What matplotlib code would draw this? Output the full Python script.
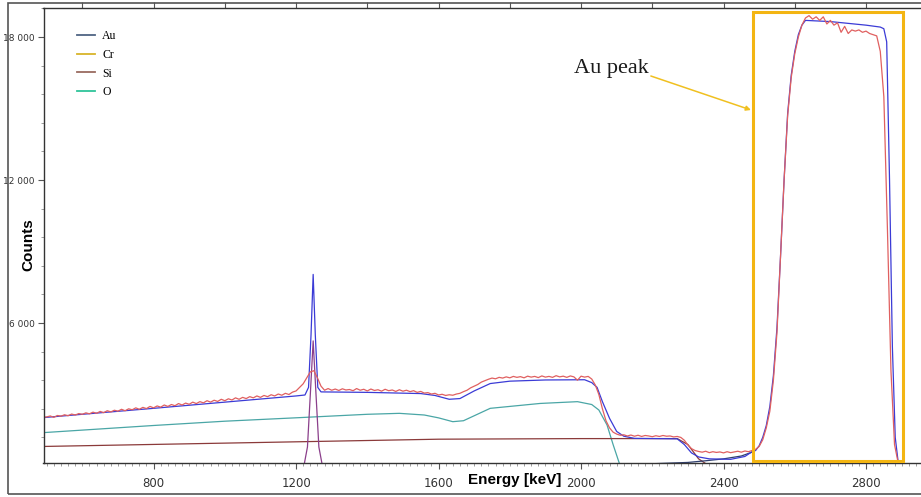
import numpy as np
import matplotlib
matplotlib.use("Agg")
import matplotlib.pyplot as plt
from matplotlib.lines import Line2D
from matplotlib.patches import Rectangle
from matplotlib.ticker import MultipleLocator, FuncFormatter

# measured spectrum (10 keV channels, 490 .. 2900 keV)
exp_energy = np.arange(490, 2901, 10)
exp_counts = [
    2050,
    2060, 2100, 2040, 2120, 2090, 2150, 2110, 2180, 2140, 2200,
    2170, 2230, 2190, 2260, 2210, 2290, 2240, 2320, 2270, 2340,
    2300, 2380, 2320, 2400, 2360, 2440, 2380, 2460, 2410, 2500,
    2440, 2520, 2470, 2560, 2500, 2580, 2530, 2620, 2560, 2640,
    2590, 2680, 2620, 2700, 2650, 2740, 2680, 2760, 2710, 2800,
    2740, 2820, 2770, 2860, 2800, 2880, 2830, 2910, 2860, 2940,
    2880, 2960, 2910, 2990, 2940, 3020, 2970, 3050, 3000, 3100,
    3150, 3300, 3450, 3700, 3950, 4000, 3700, 3350, 3180, 3250,
    3180, 3230, 3170, 3240, 3190, 3210, 3160, 3250, 3180, 3220,
    3150, 3230, 3170, 3200, 3140, 3220, 3160, 3190, 3130, 3200,
    3140, 3180, 3120, 3160, 3090, 3130, 3060, 3080, 3020, 3050,
    2980, 3010, 2960, 2990, 2970, 3020, 3050, 3120, 3180, 3280,
    3350, 3420, 3520, 3580, 3640, 3690, 3660, 3720, 3690, 3740,
    3700, 3760, 3720, 3750, 3700, 3770, 3730, 3760, 3710, 3780,
    3730, 3760, 3720, 3790, 3740, 3770, 3720, 3780, 3740, 3600,
    3770, 3730, 3760, 3650, 3400, 3000, 2400, 1900, 1600, 1420,
    1340, 1290, 1310, 1260, 1300, 1250, 1290, 1240, 1280, 1260,
    1230, 1270, 1240, 1280, 1250, 1260, 1220, 1240, 1200, 1080,
    880, 730, 650, 610, 580, 620, 560, 600, 570, 590,
    550, 600, 560, 590, 620, 580, 630, 600, 650, 700,
    820, 1100, 1600, 2300, 3600, 5600, 8800, 12000, 14700, 16300,
    17300, 18000, 18500, 18800, 18900, 18750, 18850, 18700, 18850, 18550,
    18700, 18500, 18600, 18200, 18450, 18150, 18300, 18250, 18300, 18200,
    18250, 18150, 18100, 18050, 17400, 15500, 10000, 4000, 900, 150,
    50,
]

# simulated total
sim_energy = [490, 600, 800, 1000, 1200, 1225, 1235, 1242, 1248, 1254, 1261,
              1270, 1400, 1550, 1590, 1630, 1660, 1700, 1745, 1800, 1900,
              2010, 2030, 2045, 2060, 2080, 2100, 2120, 2150, 2270, 2290,
              2310, 2330, 2360, 2420, 2460, 2480, 2490, 2500, 2510, 2520,
              2530, 2540, 2550, 2560, 2570, 2580, 2590, 2600, 2610, 2620,
              2630, 2700, 2800, 2840, 2850, 2858, 2866, 2874, 2882, 2890,
              2900]
sim_counts = [2030, 2170, 2420, 2680, 2940, 2980, 3300, 5500, 8040, 5500, 3300,
              3110, 3090, 3040, 2960, 2800, 2830, 3150, 3460, 3560, 3610,
              3620, 3500, 3300, 2700, 2000, 1450, 1250, 1160, 1140, 900,
              550, 380, 300, 280, 400, 600, 650, 850, 1200, 1700,
              2500, 3800, 5800, 8800, 12000, 14800, 16400, 17400, 18100, 18500,
              18700, 18650, 18500, 18420, 18350, 17800, 12000, 5000, 1200, 200,
              0]

# element partials
o_energy = [490, 800, 1000, 1210, 1400, 1490, 1560, 1600, 1640, 1670, 1745,
            1885, 1990, 2030, 2050, 2073, 2090, 2110]
o_counts = [1400, 1700, 1880, 2030, 2170, 2210, 2140, 2020, 1860, 1900, 2420,
            2625, 2700, 2580, 2350, 1720, 900, 0]

si_energy = [490, 1000, 1600, 2000, 2270, 2300, 2330, 2360]
si_counts = [820, 960, 1125, 1150, 1150, 900, 300, 0]

res_energy = [1222, 1232, 1240, 1248, 1256, 1264, 1274]
res_counts = [0, 800, 3000, 5250, 3000, 800, 0]

au_energy = [2210, 2300, 2350, 2400, 2450, 2480]
au_counts = [100, 150, 220, 300, 420, 580]

legend_names = ["Au", "Cr", "Si", "O"]
legend_colors = ["#4f6484", "#d8b42a", "#9a6b60", "#2fc49a"]

fig = plt.figure(figsize=(9.21, 4.97), dpi=100)
ax = fig.add_axes([43.5 / 921, 34 / 497, 941.5 / 921, 455 / 497])

# outer panel frame
fig.patches.append(Rectangle((8 / 921, 3 / 497), 1.0, 491 / 497,
                             transform=fig.transFigure, fill=False,
                             edgecolor="#555555", lw=1.2))

ax.plot(o_energy, o_counts, color="#4aa6a6", lw=0.9)
ax.plot(si_energy, si_counts, color="#8b3a3a", lw=0.9)
ax.plot(res_energy, res_counts, color="#8b3f8b", lw=0.9)
ax.plot(au_energy, au_counts, color="#2f3f6f", lw=0.9)
ax.plot(sim_energy, sim_counts, color="#3b3bd6", lw=0.9)
ax.plot(exp_energy, exp_counts, color="#e06060", lw=0.9)

ax.set_xlim(491, 3134)
ax.set_ylim(126, 19220)

ax.xaxis.set_major_locator(MultipleLocator(400))
ax.xaxis.set_minor_locator(MultipleLocator(20))
ax.yaxis.set_major_locator(MultipleLocator(6000))
ax.yaxis.set_minor_locator(MultipleLocator(1200))
ax.yaxis.set_major_formatter(FuncFormatter(lambda v, p: f"{int(v):,}".replace(",", " ")))

ax.tick_params(axis="x", which="major", length=4, width=0.8, colors="#555555",
               labelsize=8.5, labelcolor="#333333", pad=6)
ax.tick_params(axis="x", which="minor", length=2, width=0.5, colors="#777777")
ax.tick_params(axis="y", which="major", length=4, width=0.8, colors="#555555",
               labelsize=6.5, labelcolor="#333333", pad=2.5)
ax.tick_params(axis="y", which="minor", length=2, width=0.5, colors="#777777")
for s in ax.spines.values():
    s.set_color("#333333")
    s.set_linewidth(1.0)

top = ax.secondary_xaxis("top")
top.xaxis.set_major_locator(MultipleLocator(200))
top.tick_params(length=4, width=0.8, colors="#555555", labeltop=False)
top.spines["top"].set_visible(False)

ax.set_xlabel("Energy [keV]", fontsize=11, fontweight="bold", family="Liberation Sans")
ax.xaxis.set_label_coords(0.5, -0.022)
ax.set_ylabel("Counts", fontsize=11, fontweight="bold", family="Liberation Sans")
ax.yaxis.set_label_coords(-0.009, 0.48)

handles = [Line2D([0], [0], color=c, lw=1.3) for c in legend_colors]
ax.legend(handles, legend_names, loc="upper left", bbox_to_anchor=(0.036, 0.952),
          frameon=False, prop={"family": "Liberation Serif", "size": 8.5},
          handlelength=1.5, handletextpad=0.6, labelspacing=0.58, borderpad=0,
          borderaxespad=0)

# Au peak highlight
ax.add_patch(Rectangle((2483, 210), 421, 18840, fill=False,
                       edgecolor="#f3b512", lw=2.2, zorder=5))
ax.annotate("", xy=(2477, 14940), xytext=(2196, 16366),
            arrowprops=dict(arrowstyle="-|>", color="#f0c020", lw=1.1,
                            mutation_scale=7, shrinkA=0, shrinkB=0))
ax.text(2085, 16700, "Au peak", fontsize=16, family="Liberation Serif",
        ha="center", va="center", color="#1a1a1a")

fig.savefig("out.png", dpi=100)
